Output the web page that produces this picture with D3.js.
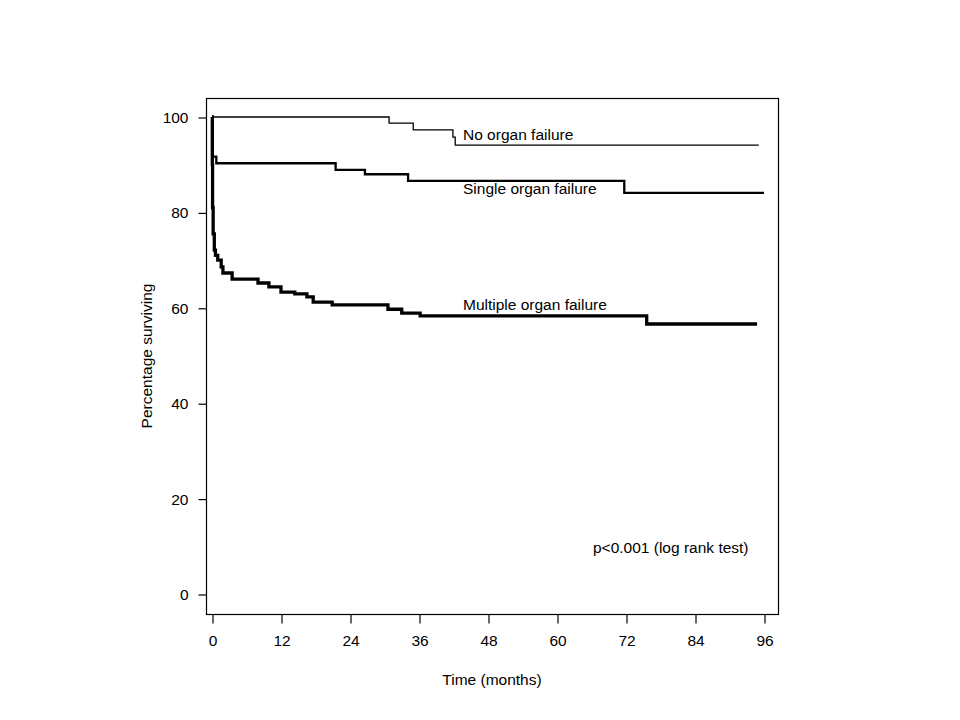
<!DOCTYPE html>
<html>
<head>
<meta charset="utf-8">
<script src="https://cdn.jsdelivr.net/npm/d3@7/dist/d3.min.js"></script>
<style>
  html, body { margin: 0; padding: 0; background: #fff; }
  svg text { font-family: "Liberation Sans", Arial, sans-serif; fill: #000; }
</style>
</head>
<body>
<svg id="chart" width="960" height="720"></svg>
<script>
// ---- Data (time in months, percentage surviving) ----
const xTicks = [0, 12, 24, 36, 48, 60, 72, 84, 96];
const yTicks = [0, 20, 40, 60, 80, 100];

const noOrganFailure = [
  [0, 100], [30.8, 98.7], [35.0, 97.3], [41.9, 95.8], [42.3, 94.1], [95.1, 94.1]
];
const singleOrganFailure = [
  [0, 100], [0.15, 91.7], [0.75, 90.3], [21.5, 88.9], [26.6, 88.0],
  [34.1, 86.6], [71.7, 84.1], [96.0, 84.1]
];
const multipleOrganFailure = [
  [0, 100], [0.05, 90], [0.1, 81], [0.2, 75.5], [0.4, 72.1], [0.6, 71.0],
  [1.0, 70.0], [1.6, 68.6], [1.9, 67.3], [3.5, 66.0], [8.0, 65.2], [9.9, 64.4],
  [12.0, 63.3], [14.4, 62.9], [16.5, 62.3], [17.6, 61.2], [20.9, 60.6],
  [30.6, 59.7], [33.0, 58.9], [36.2, 58.3], [75.6, 56.6], [94.8, 56.6]
];
const seriesLabels = ["No organ failure", "Single organ failure", "Multiple organ failure"];
const pValueText = "p<0.001 (log rank test)";

// ---- Drawing ----
const FS = "15.5px";
const svg = d3.select("#chart");
const box = { left: 206, right: 778, top: 98, bottom: 614 };

const x = d3.scaleLinear().domain([0, 96]).range([212, 764]);
const y = d3.scaleLinear().domain([0, 100]).range([594, 117]);

// frame
svg.append("rect")
  .attr("x", box.left + 0.5).attr("y", box.top + 0.5)
  .attr("width", box.right - box.left).attr("height", box.bottom - box.top)
  .attr("fill", "none").attr("stroke", "#000").attr("stroke-width", 1.2);

// x axis
const xAxis = d3.axisBottom(x).tickValues(xTicks).tickSize(9).tickPadding(11);
const gx = svg.append("g").attr("transform", `translate(0.5,${box.bottom + 0.5})`).call(xAxis);
gx.select(".domain").remove();
gx.selectAll("text").style("font-size", FS).style("font-family", "'Liberation Sans', Arial, sans-serif");
gx.selectAll("line").attr("stroke-width", 1.2);

// y axis
const yAxis = d3.axisLeft(y).tickValues(yTicks).tickSize(8).tickPadding(10);
const gy = svg.append("g").attr("transform", `translate(${box.left + 0.5},0.5)`).call(yAxis);
gy.select(".domain").remove();
gy.selectAll("text").style("font-size", FS).style("font-family", "'Liberation Sans', Arial, sans-serif");
gy.selectAll("line").attr("stroke-width", 1.2);

// axis titles
svg.append("text").attr("x", 492).attr("y", 685).attr("text-anchor", "middle")
  .style("font-size", FS).text("Time (months)");
svg.append("text").attr("transform", "translate(152,356) rotate(-90)").attr("text-anchor", "middle")
  .style("font-size", FS).text("Percentage surviving");

// curves
const line = d3.line().x(d => x(d[0])).y(d => y(d[1])).curve(d3.curveStepAfter);
const curves = [
  { data: noOrganFailure, w: 1.3 },
  { data: singleOrganFailure, w: 2.3 },
  { data: multipleOrganFailure, w: 3.3 }
];
svg.append("g").selectAll("path").data(curves).join("path")
  .attr("d", d => line(d.data))
  .attr("fill", "none").attr("stroke", "#000")
  .attr("stroke-width", d => d.w)
  .attr("stroke-linejoin", "miter");

// labels
const labelPos = [[463, 140], [463, 194], [463, 310]];
svg.append("g").selectAll("text").data(seriesLabels).join("text")
  .attr("x", (d, i) => labelPos[i][0]).attr("y", (d, i) => labelPos[i][1])
  .style("font-size", FS).text(d => d);

svg.append("text").attr("x", 593).attr("y", 553).style("font-size", FS).text(pValueText);
</script>
</body>
</html>
